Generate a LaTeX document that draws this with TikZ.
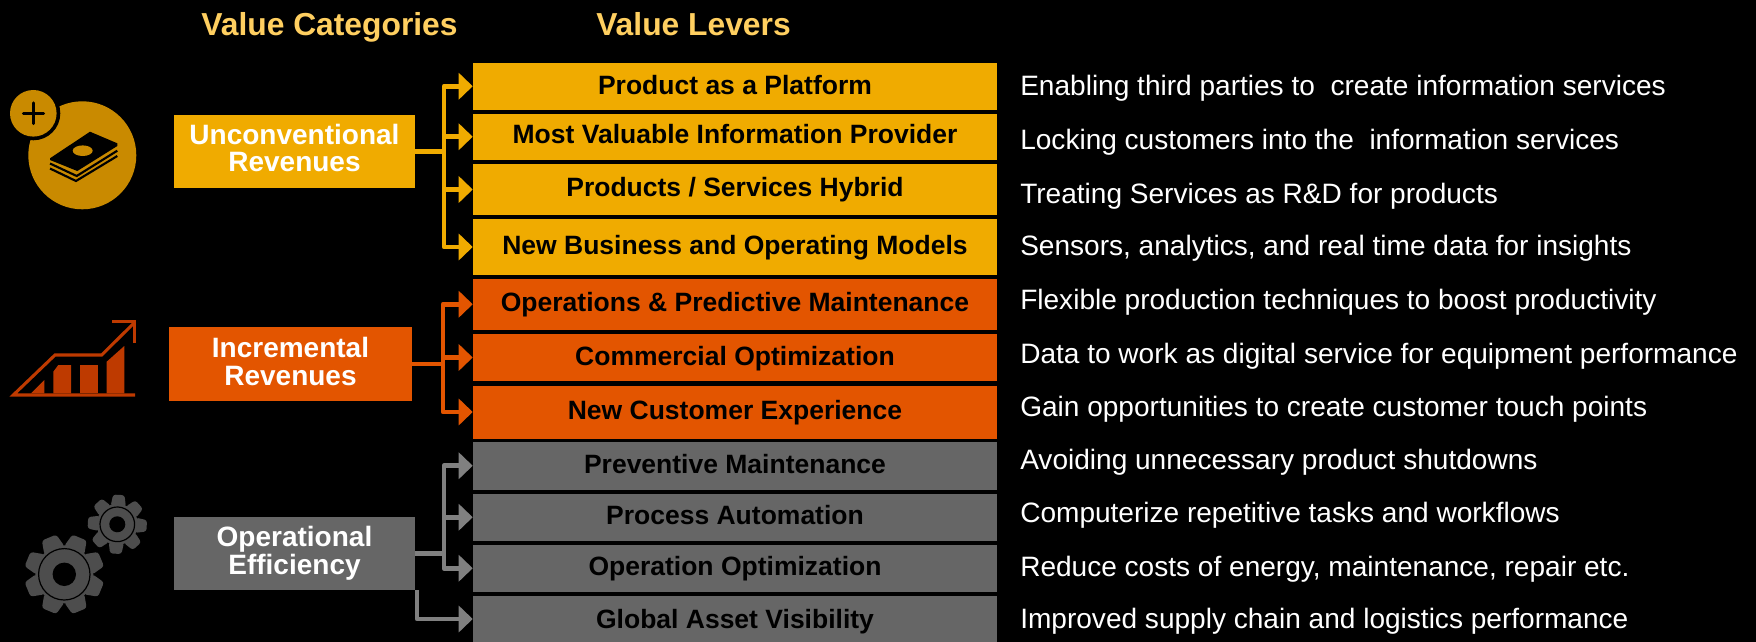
\documentclass[tikz,border=0pt]{standalone}
\usepackage{fontspec}
\setmainfont{Liberation Sans}
\usetikzlibrary{arrows.meta}
\definecolor{cyel}{HTML}{F0AB00}
\definecolor{cora}{HTML}{E35500}
\definecolor{cgry}{HTML}{666666}
\definecolor{cgra}{HTML}{808080}
\definecolor{ctit}{HTML}{FFCF60}
\definecolor{igold}{HTML}{C98A00}
\definecolor{iora}{HTML}{BE3A00}
\definecolor{igear}{HTML}{4D4D4D}
\newcommand{\lever}[6]{% name, top, bottom, colour, baseline px, text
  \node[leverbox,fill=#4,minimum height={(#3-#2)*0.75pt},text height={(#5-(#2+#3)/2)*1.5pt},text depth=0pt] (#1) at (735,{(#2+#3)/2}) {#6};}
\newcommand{\gearicon}[7]{% x,y,outer,root,hole,ring,rotation
  \begin{scope}[shift={(#1,#2)},rotate=#7]
    \fill[igear] (0,0) circle[x radius=#4,y radius=#4];
    \foreach \a in {0,45,...,315}{
      \fill[igear,rounded corners=2pt] (\a-23:{#4-1}) -- (\a-11:#3) -- (\a+11:#3) -- (\a+23:{#4-1}) -- cycle;
    }
    \draw[black,line width=0.9pt] (0,0) circle[x radius=#6,y radius=#6];
    \fill[black] (0,0) circle[x radius=#5,y radius=#5];
  \end{scope}}
\tikzset{
  x=0.75pt,y=-0.75pt,
  leverbox/.style={draw=none,inner sep=0pt,minimum width={524*0.75pt},text=black,font=\fontsize{19.875}{19.875}\selectfont\bfseries},
  catbox/.style={draw=none,inner sep=0pt,text=white,align=center,font=\fontsize{21}{20.5}\selectfont\bfseries},
  hdr/.style={inner sep=0pt,anchor=base,text=ctit,font=\fontsize{23.85}{23.85}\selectfont\bfseries},
  desc/.style={inner sep=0pt,anchor=base west,text=white,font=\fontsize{21.04}{21.04}\selectfont},
  link/.style={line width=3.5pt,-{Triangle[length=10.5pt,width=19.5pt]},line join=round},
  stub/.style={line width=3.5pt,line join=round},
}
\begin{document}
\begin{tikzpicture}
\useasboundingbox (0,0) rectangle (1756,642);
\fill[black] (0,0) rectangle (1756,642);

% headers
\node[hdr] (h1) at (329.5,36) {Value Categories};
\node[hdr] (h2) at (693.5,36) {Value Levers};

% levers
\lever{a1}{63}{109.5}{cyel}{94.5}{Product as a Platform}
\lever{a2}{113.5}{160}{cyel}{143.7}{Most Valuable Information Provider}
\lever{a3}{164}{215}{cyel}{196.7}{Products / Services Hybrid}
\lever{a4}{219}{275}{cyel}{254.3}{New Business and Operating Models}
\lever{b1}{278.5}{330}{cora}{311.7}{Operations \& Predictive Maintenance}
\lever{b2}{334}{381}{cora}{365}{Commercial Optimization}
\lever{b3}{385.5}{438.5}{cora}{419.5}{New Customer Experience}
\lever{c1}{442}{489.5}{cgry}{473.3}{Preventive Maintenance}
\lever{c2}{493.5}{541}{cgry}{524}{Process Automation}
\lever{c3}{544.5}{592}{cgry}{575.3}{Operation Optimization}
\lever{c4}{596}{642}{cgry}{628.3}{Global Asset Visibility}

% categories
\node[catbox,fill=cyel,minimum width={241*0.75pt},minimum height={73*0.75pt},text height=30.3pt,text depth=0pt] (ua) at (294.5,151.5)
  {Unconventional\\Revenues};
\node[catbox,fill=cora,minimum width={243*0.75pt},minimum height={74*0.75pt},text height=31.5pt,text depth=0pt] (ub) at (290.5,364)
  {Incremental\\Revenues};
\node[catbox,fill=cgry,minimum width={241*0.75pt},minimum height={73*0.75pt},text height=31.2pt,text depth=0pt] (uc) at (294.5,553.5)
  {Operational\\Efficiency};

% connectors
\coordinate (ta) at (444,151.5);
\coordinate (tb) at (443,364);
\coordinate (tc) at (444,553.5);
\coordinate (td) at (417,590);
\draw[stub,cyel] (ua.east) -- (ta);
\foreach \t in {a1,a2,a3,a4} \draw[link,cyel] (ta) |- (\t.west);
\draw[stub,cora] (ub.east) -- (tb);
\foreach \t in {b1,b2,b3} \draw[link,cora] (tb) |- (\t.west);
\draw[stub,cgra] (uc.east) -- (tc);
\foreach \t in {c1,c2,c3} \draw[link,cgra] (tc) |- (\t.west);
\draw[link,cgra] (td) |- (c4.west);

% descriptions
\node[desc] (d1) at (1020,96) {Enabling third parties to\ \ create information services};
\node[desc] (d2) at (1020,149.5) {Locking customers into the\ \ information services};
\node[desc] (d3) at (1020,203) {Treating Services as R\&D for products};
\node[desc] (d4) at (1020,255.5) {Sensors, analytics, and real time data for insights};
\node[desc] (d5) at (1020,309.5) {Flexible production techniques to boost productivity};
\node[desc] (d6) at (1020,363.5) {Data to work as digital service for equipment performance};
\node[desc] (d7) at (1020,416) {Gain opportunities to create customer touch points};
\node[desc] (d8) at (1020,469.3) {Avoiding unnecessary product shutdowns};
\node[desc] (d9) at (1020,522.7) {Computerize repetitive tasks and workflows};
\node[desc] (d10) at (1020,576) {Reduce costs of energy, maintenance, repair etc.};
\node[desc] (d11) at (1020,628.5) {Improved supply chain and logistics performance};

% money icon
\fill[igold] (82.3,155.3) circle[x radius=54,y radius=54];
\fill[black] (33.3,113.3) circle[x radius=27,y radius=27];
\fill[igold] (33.3,113.3) circle[x radius=23.3,y radius=23.3];
\draw[black,line width=2.5pt,line cap=round] (23.5,113.3) -- (43.5,113.3) (33.5,103) -- (33.5,123.5);
\fill[black] (50,158.3) -- (90,131.7) -- (117.3,143.3) -- (117.3,146) -- (77.3,171) -- (50,160) -- cycle;
\fill[igold] (82.7,150.7) ellipse[x radius=10,y radius=5.3];
\draw[black,line width=1.6pt] (50,163.5) -- (76.7,176) -- (117.3,150.7);
\draw[black,line width=1.6pt] (50,168.5) -- (76,181) -- (117.3,156);

% growth icon
\fill[iora] (31,393.3) -- (44.3,380) -- (44.3,393.3) -- cycle;
\fill[iora] (53.3,393.3) -- (53.3,371.7) -- (58.3,365) -- (71,365) -- (71,393.3) -- cycle;
\fill[iora] (80,393.3) -- (80,365) -- (97.7,365) -- (97.7,393.3) -- cycle;
\fill[iora] (106.7,393.3) -- (106.7,361.7) -- (124.3,346) -- (124.3,393.3) -- cycle;
\draw[iora,line width=2.3pt,line join=miter] (135,395) -- (13.3,395) -- (55,355) -- (101.7,355) -- (134.3,322.7);
\draw[iora,line width=2.3pt] (112.3,321.7) -- (134.3,321.7) -- (134.3,343.3);

% gears
\gearicon{64.3}{574.3}{40.5}{29}{11.7}{25.7}{22.5}
\gearicon{117.3}{524.3}{30}{20.5}{8}{17.3}{-3}
\end{tikzpicture}
\end{document}
